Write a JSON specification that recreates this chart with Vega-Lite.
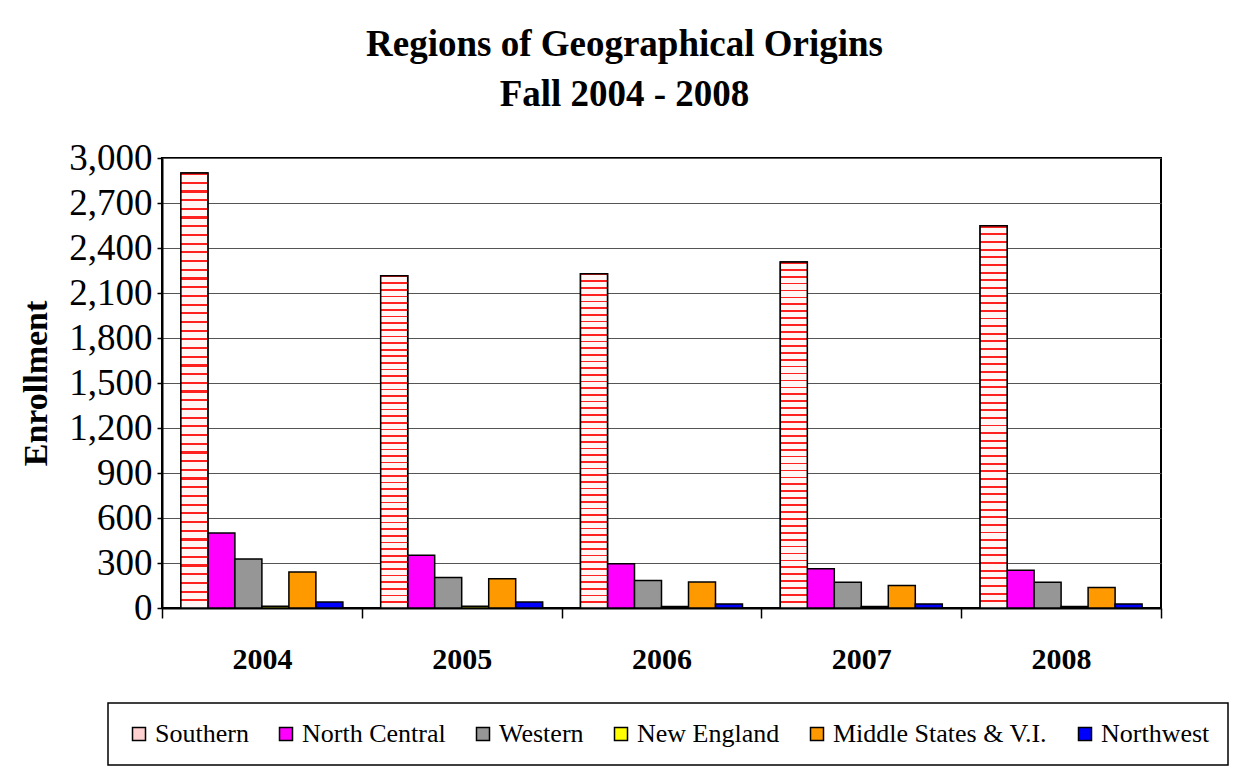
{
 "$schema": "https://vega.github.io/schema/vega-lite/v6.json",
 "width": 999,
 "height": 450,
 "autosize": {"type": "none"},
 "padding": {"left": 162, "top": 158, "right": 75, "bottom": 166},
 "background": "white",
 "title": {"text": ["Regions of Geographical Origins", "Fall 2004 - 2008"], "font": "Liberation Serif", "fontSize": 37, "fontWeight": "bold", "color": "black", "lineHeight": 50, "anchor": "middle", "dx": -37, "offset": 25},
 "data": {"values": [
  {"year": "2004", "region": "Southern", "value": 2900},
  {"year": "2005", "region": "Southern", "value": 2215},
  {"year": "2006", "region": "Southern", "value": 2228},
  {"year": "2007", "region": "Southern", "value": 2307},
  {"year": "2008", "region": "Southern", "value": 2548},
  {"year": "2004", "region": "North Central", "value": 500},
  {"year": "2005", "region": "North Central", "value": 352},
  {"year": "2006", "region": "North Central", "value": 295},
  {"year": "2007", "region": "North Central", "value": 262},
  {"year": "2008", "region": "North Central", "value": 251},
  {"year": "2004", "region": "Western", "value": 327},
  {"year": "2005", "region": "Western", "value": 203},
  {"year": "2006", "region": "Western", "value": 184},
  {"year": "2007", "region": "Western", "value": 171},
  {"year": "2008", "region": "Western", "value": 171},
  {"year": "2004", "region": "New England", "value": 12},
  {"year": "2005", "region": "New England", "value": 12},
  {"year": "2006", "region": "New England", "value": 10},
  {"year": "2007", "region": "New England", "value": 10},
  {"year": "2008", "region": "New England", "value": 10},
  {"year": "2004", "region": "Middle States & V.I.", "value": 240},
  {"year": "2005", "region": "Middle States & V.I.", "value": 195},
  {"year": "2006", "region": "Middle States & V.I.", "value": 173},
  {"year": "2007", "region": "Middle States & V.I.", "value": 150},
  {"year": "2008", "region": "Middle States & V.I.", "value": 137},
  {"year": "2004", "region": "Northwest", "value": 40},
  {"year": "2005", "region": "Northwest", "value": 40},
  {"year": "2006", "region": "Northwest", "value": 27},
  {"year": "2007", "region": "Northwest", "value": 27},
  {"year": "2008", "region": "Northwest", "value": 27}
 ]},
 "layer": [
  {
   "mark": {"type": "bar", "stroke": "black", "strokeWidth": 1.5},
   "encoding": {
    "x": {"field": "year", "type": "nominal", "scale": {"paddingInner": 0, "paddingOuter": 0},
          "axis": {"labelAngle": 0, "labelFont": "Liberation Serif", "labelFontSize": 30, "labelFontWeight": "bold", "labelColor": "black", "labelPadding": 26, "tickBand": "extent", "tickSize": 10, "tickColor": "black", "tickWidth": 1.5, "domainColor": "black", "domainWidth": 2, "title": null, "grid": false}},
    "xOffset": {"field": "region", "type": "nominal", "scale": {"domain": ["Southern", "North Central", "Western", "New England", "Middle States & V.I.", "Northwest"], "paddingInner": 0, "paddingOuter": 0.7}},
    "y": {"field": "value", "type": "quantitative", "scale": {"domain": [0, 3000]}, "title": "Enrollment",
          "axis": {"values": [0, 300, 600, 900, 1200, 1500, 1800, 2100, 2400, 2700, 3000], "format": ",.0f", "labelFont": "Liberation Serif", "labelFontSize": 37, "labelColor": "black", "labelPadding": 5, "tickSize": 5, "tickColor": "black", "tickWidth": 1.5, "domainColor": "black", "domainWidth": 2, "gridColor": "#555555", "gridWidth": 1, "titleFont": "Liberation Serif", "titleFontSize": 34, "titleFontWeight": "bold", "titleColor": "black", "titlePadding": 15}},
    "fill": {"field": "region", "type": "nominal",
             "scale": {"domain": ["Southern", "North Central", "Western", "New England", "Middle States & V.I.", "Northwest"], "range": ["#ffd0d0", "#ff00ff", "#969696", "#ffff00", "#ff9900", "#0000ff"]},
             "legend": {"orient": "none", "legendX": -54, "legendY": 545, "direction": "horizontal", "title": null, "symbolType": "square", "symbolSize": 169, "symbolStrokeColor": "black", "symbolStrokeWidth": 1.5, "labelFont": "Liberation Serif", "labelFontSize": 26, "labelColor": "black", "labelOffset": 3, "labelLimit": 400, "columnPadding": 24, "padding": 18, "strokeColor": "black", "fillColor": "white"}}
   }
  },
  {
   "transform": [{"filter": "datum.region === 'Southern'"}],
   "mark": {"type": "bar", "stroke": "black", "strokeWidth": 1.5,
            "fill": {"gradient": "linear", "x1": 0, "y1": 0, "x2": 0, "y2": 1, "stops": [
{"offset":0,"color":"#ff2020"},{"offset":0.005,"color":"#ff2020"},{"offset":0.005,"color":"#fff6f6"},{"offset":0.02,"color":"#fff6f6"},
{"offset":0.02,"color":"#ff2020"},{"offset":0.025,"color":"#ff2020"},{"offset":0.025,"color":"#fff6f6"},{"offset":0.04,"color":"#fff6f6"},
{"offset":0.04,"color":"#ff2020"},{"offset":0.045,"color":"#ff2020"},{"offset":0.045,"color":"#fff6f6"},{"offset":0.06,"color":"#fff6f6"},
{"offset":0.06,"color":"#ff2020"},{"offset":0.065,"color":"#ff2020"},{"offset":0.065,"color":"#fff6f6"},{"offset":0.08,"color":"#fff6f6"},
{"offset":0.08,"color":"#ff2020"},{"offset":0.085,"color":"#ff2020"},{"offset":0.085,"color":"#fff6f6"},{"offset":0.1,"color":"#fff6f6"},
{"offset":0.1,"color":"#ff2020"},{"offset":0.105,"color":"#ff2020"},{"offset":0.105,"color":"#fff6f6"},{"offset":0.12,"color":"#fff6f6"},
{"offset":0.12,"color":"#ff2020"},{"offset":0.125,"color":"#ff2020"},{"offset":0.125,"color":"#fff6f6"},{"offset":0.14,"color":"#fff6f6"},
{"offset":0.14,"color":"#ff2020"},{"offset":0.145,"color":"#ff2020"},{"offset":0.145,"color":"#fff6f6"},{"offset":0.16,"color":"#fff6f6"},
{"offset":0.16,"color":"#ff2020"},{"offset":0.165,"color":"#ff2020"},{"offset":0.165,"color":"#fff6f6"},{"offset":0.18,"color":"#fff6f6"},
{"offset":0.18,"color":"#ff2020"},{"offset":0.185,"color":"#ff2020"},{"offset":0.185,"color":"#fff6f6"},{"offset":0.2,"color":"#fff6f6"},
{"offset":0.2,"color":"#ff2020"},{"offset":0.205,"color":"#ff2020"},{"offset":0.205,"color":"#fff6f6"},{"offset":0.22,"color":"#fff6f6"},
{"offset":0.22,"color":"#ff2020"},{"offset":0.225,"color":"#ff2020"},{"offset":0.225,"color":"#fff6f6"},{"offset":0.24,"color":"#fff6f6"},
{"offset":0.24,"color":"#ff2020"},{"offset":0.245,"color":"#ff2020"},{"offset":0.245,"color":"#fff6f6"},{"offset":0.26,"color":"#fff6f6"},
{"offset":0.26,"color":"#ff2020"},{"offset":0.265,"color":"#ff2020"},{"offset":0.265,"color":"#fff6f6"},{"offset":0.28,"color":"#fff6f6"},
{"offset":0.28,"color":"#ff2020"},{"offset":0.285,"color":"#ff2020"},{"offset":0.285,"color":"#fff6f6"},{"offset":0.3,"color":"#fff6f6"},
{"offset":0.3,"color":"#ff2020"},{"offset":0.305,"color":"#ff2020"},{"offset":0.305,"color":"#fff6f6"},{"offset":0.32,"color":"#fff6f6"},
{"offset":0.32,"color":"#ff2020"},{"offset":0.325,"color":"#ff2020"},{"offset":0.325,"color":"#fff6f6"},{"offset":0.34,"color":"#fff6f6"},
{"offset":0.34,"color":"#ff2020"},{"offset":0.345,"color":"#ff2020"},{"offset":0.345,"color":"#fff6f6"},{"offset":0.36,"color":"#fff6f6"},
{"offset":0.36,"color":"#ff2020"},{"offset":0.365,"color":"#ff2020"},{"offset":0.365,"color":"#fff6f6"},{"offset":0.38,"color":"#fff6f6"},
{"offset":0.38,"color":"#ff2020"},{"offset":0.385,"color":"#ff2020"},{"offset":0.385,"color":"#fff6f6"},{"offset":0.4,"color":"#fff6f6"},
{"offset":0.4,"color":"#ff2020"},{"offset":0.405,"color":"#ff2020"},{"offset":0.405,"color":"#fff6f6"},{"offset":0.42,"color":"#fff6f6"},
{"offset":0.42,"color":"#ff2020"},{"offset":0.425,"color":"#ff2020"},{"offset":0.425,"color":"#fff6f6"},{"offset":0.44,"color":"#fff6f6"},
{"offset":0.44,"color":"#ff2020"},{"offset":0.445,"color":"#ff2020"},{"offset":0.445,"color":"#fff6f6"},{"offset":0.46,"color":"#fff6f6"},
{"offset":0.46,"color":"#ff2020"},{"offset":0.465,"color":"#ff2020"},{"offset":0.465,"color":"#fff6f6"},{"offset":0.48,"color":"#fff6f6"},
{"offset":0.48,"color":"#ff2020"},{"offset":0.485,"color":"#ff2020"},{"offset":0.485,"color":"#fff6f6"},{"offset":0.5,"color":"#fff6f6"},
{"offset":0.5,"color":"#ff2020"},{"offset":0.505,"color":"#ff2020"},{"offset":0.505,"color":"#fff6f6"},{"offset":0.52,"color":"#fff6f6"},
{"offset":0.52,"color":"#ff2020"},{"offset":0.525,"color":"#ff2020"},{"offset":0.525,"color":"#fff6f6"},{"offset":0.54,"color":"#fff6f6"},
{"offset":0.54,"color":"#ff2020"},{"offset":0.545,"color":"#ff2020"},{"offset":0.545,"color":"#fff6f6"},{"offset":0.56,"color":"#fff6f6"},
{"offset":0.56,"color":"#ff2020"},{"offset":0.565,"color":"#ff2020"},{"offset":0.565,"color":"#fff6f6"},{"offset":0.58,"color":"#fff6f6"},
{"offset":0.58,"color":"#ff2020"},{"offset":0.585,"color":"#ff2020"},{"offset":0.585,"color":"#fff6f6"},{"offset":0.6,"color":"#fff6f6"},
{"offset":0.6,"color":"#ff2020"},{"offset":0.605,"color":"#ff2020"},{"offset":0.605,"color":"#fff6f6"},{"offset":0.62,"color":"#fff6f6"},
{"offset":0.62,"color":"#ff2020"},{"offset":0.625,"color":"#ff2020"},{"offset":0.625,"color":"#fff6f6"},{"offset":0.64,"color":"#fff6f6"},
{"offset":0.64,"color":"#ff2020"},{"offset":0.645,"color":"#ff2020"},{"offset":0.645,"color":"#fff6f6"},{"offset":0.66,"color":"#fff6f6"},
{"offset":0.66,"color":"#ff2020"},{"offset":0.665,"color":"#ff2020"},{"offset":0.665,"color":"#fff6f6"},{"offset":0.68,"color":"#fff6f6"},
{"offset":0.68,"color":"#ff2020"},{"offset":0.685,"color":"#ff2020"},{"offset":0.685,"color":"#fff6f6"},{"offset":0.7,"color":"#fff6f6"},
{"offset":0.7,"color":"#ff2020"},{"offset":0.705,"color":"#ff2020"},{"offset":0.705,"color":"#fff6f6"},{"offset":0.72,"color":"#fff6f6"},
{"offset":0.72,"color":"#ff2020"},{"offset":0.725,"color":"#ff2020"},{"offset":0.725,"color":"#fff6f6"},{"offset":0.74,"color":"#fff6f6"},
{"offset":0.74,"color":"#ff2020"},{"offset":0.745,"color":"#ff2020"},{"offset":0.745,"color":"#fff6f6"},{"offset":0.76,"color":"#fff6f6"},
{"offset":0.76,"color":"#ff2020"},{"offset":0.765,"color":"#ff2020"},{"offset":0.765,"color":"#fff6f6"},{"offset":0.78,"color":"#fff6f6"},
{"offset":0.78,"color":"#ff2020"},{"offset":0.785,"color":"#ff2020"},{"offset":0.785,"color":"#fff6f6"},{"offset":0.8,"color":"#fff6f6"},
{"offset":0.8,"color":"#ff2020"},{"offset":0.805,"color":"#ff2020"},{"offset":0.805,"color":"#fff6f6"},{"offset":0.82,"color":"#fff6f6"},
{"offset":0.82,"color":"#ff2020"},{"offset":0.825,"color":"#ff2020"},{"offset":0.825,"color":"#fff6f6"},{"offset":0.84,"color":"#fff6f6"},
{"offset":0.84,"color":"#ff2020"},{"offset":0.845,"color":"#ff2020"},{"offset":0.845,"color":"#fff6f6"},{"offset":0.86,"color":"#fff6f6"},
{"offset":0.86,"color":"#ff2020"},{"offset":0.865,"color":"#ff2020"},{"offset":0.865,"color":"#fff6f6"},{"offset":0.88,"color":"#fff6f6"},
{"offset":0.88,"color":"#ff2020"},{"offset":0.885,"color":"#ff2020"},{"offset":0.885,"color":"#fff6f6"},{"offset":0.9,"color":"#fff6f6"},
{"offset":0.9,"color":"#ff2020"},{"offset":0.905,"color":"#ff2020"},{"offset":0.905,"color":"#fff6f6"},{"offset":0.92,"color":"#fff6f6"},
{"offset":0.92,"color":"#ff2020"},{"offset":0.925,"color":"#ff2020"},{"offset":0.925,"color":"#fff6f6"},{"offset":0.94,"color":"#fff6f6"},
{"offset":0.94,"color":"#ff2020"},{"offset":0.945,"color":"#ff2020"},{"offset":0.945,"color":"#fff6f6"},{"offset":0.96,"color":"#fff6f6"},
{"offset":0.96,"color":"#ff2020"},{"offset":0.965,"color":"#ff2020"},{"offset":0.965,"color":"#fff6f6"},{"offset":0.98,"color":"#fff6f6"},
{"offset":0.98,"color":"#ff2020"},{"offset":0.985,"color":"#ff2020"},{"offset":0.985,"color":"#fff6f6"},{"offset":1,"color":"#fff6f6"}
            ]}},
   "encoding": {
    "x": {"field": "year", "type": "nominal"},
    "xOffset": {"field": "region", "type": "nominal"},
    "y": {"field": "value", "type": "quantitative", "title": "Enrollment"}
   }
  }
 ],
 "config": {
  "view": {"stroke": "black", "strokeWidth": 2},
  "legend": {"strokeWidth": 1.5}
 }
}
